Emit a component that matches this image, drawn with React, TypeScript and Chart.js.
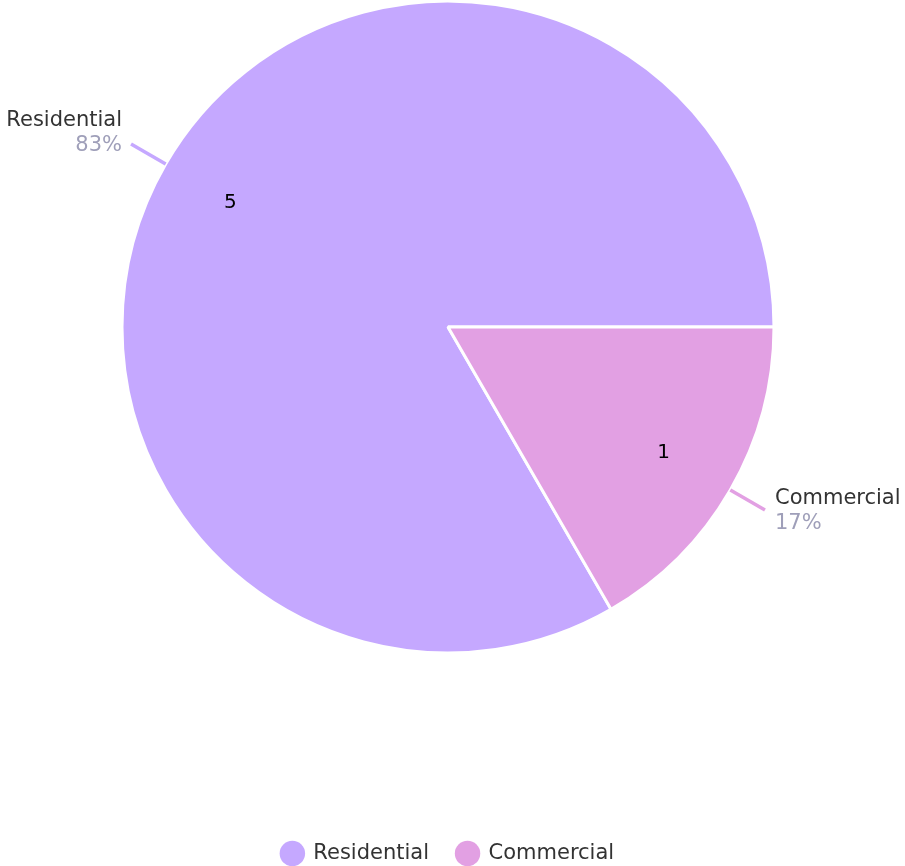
import React, { useEffect, useRef } from "react";
import { Chart, registerables } from "chart.js";

Chart.register(...registerables);

const categories = ["Residential", "Commercial"];
const values = [5, 1];
const sliceColors = ["#c5a8ff", "#e2a0e3"];

const FONT = "'DejaVu Sans', sans-serif";
const TEXT_COLOR = "#333333";
const PCT_COLOR = "#9f9fb9";

const labelPlugin = {
  id: "pieLabels",
  afterDatasetsDraw(chart: any) {
    const ctx = chart.ctx as CanvasRenderingContext2D;
    const meta = chart.getDatasetMeta(0);
    const total = values.reduce((a, b) => a + b, 0);
    meta.data.forEach((arc: any, i: number) => {
      const { x, y, startAngle, endAngle, outerRadius } = arc.getProps(
        ["x", "y", "startAngle", "endAngle", "outerRadius"],
        true
      );
      const mid = (startAngle + endAngle) / 2;
      const cos = Math.cos(mid);
      const sin = Math.sin(mid);
      ctx.save();
      // value inside slice
      const ri = outerRadius * 0.767;
      ctx.font = `20px ${FONT}`;
      ctx.fillStyle = "#000000";
      ctx.textAlign = "center";
      ctx.textBaseline = "middle";
      ctx.fillText(String(values[i]), x + cos * ri - 1, y + sin * ri + 1);

      // leader line
      const r0 = outerRadius;
      const r1 = outerRadius + 40;
      const ex = x + cos * r1;
      const ey = y + sin * r1;
      ctx.strokeStyle = sliceColors[i];
      ctx.lineWidth = 3.5;
      ctx.beginPath();
      ctx.moveTo(x + cos * r0, y + sin * r0);
      ctx.lineTo(ex, ey);
      ctx.stroke();

      // outside label
      const left = cos < 0;
      const shift = sin < 0 ? -3 : 8.5;
      const tx = left ? ex - 9 : ex + 10;
      ctx.textAlign = left ? "right" : "left";
      ctx.font = `21px ${FONT}`;
      ctx.fillStyle = TEXT_COLOR;
      ctx.fillText(categories[i], tx, ey - 20 + shift);
      ctx.fillStyle = PCT_COLOR;
      const pct = Math.round((values[i] / total) * 100);
      ctx.fillText(`${pct}%`, tx, ey + 5 + shift);
      ctx.restore();
    });
  },
};

export default function App() {
  const canvasRef = useRef<HTMLCanvasElement | null>(null);

  useEffect(() => {
    if (!canvasRef.current) return;
    const chart = new Chart(canvasRef.current, {
      type: "pie",
      data: {
        labels: categories,
        datasets: [
          {
            data: values,
            backgroundColor: sliceColors,
            borderColor: "#ffffff",
            borderWidth: 3,
            radius: 326,
          } as any,
        ],
      },
      options: {
        responsive: false,
        animation: false,
        devicePixelRatio: 1,
        rotation: 150,
        layout: { padding: { top: 0, left: 0, right: 9, bottom: -8 } },
        plugins: {
          tooltip: { enabled: false },
          legend: {
            display: true,
            position: "bottom",
            title: {
              display: true,
              text: "",
              font: { size: 10, lineHeight: 1 },
              padding: { top: 0, bottom: 151 },
            },
            labels: {
              usePointStyle: true,
              pointStyle: "circle",
              boxHeight: 18,
              padding: 28,
              color: TEXT_COLOR,
              font: { family: FONT, size: 21 },
              generateLabels: (chart: any) => {
                const items = Chart.overrides.pie.plugins.legend.labels.generateLabels(chart);
                return items.map((it: any) => ({ ...it, lineWidth: 0, strokeStyle: "rgba(0,0,0,0)" }));
              },
            },
          },
        },
      },
      plugins: [labelPlugin],
    });
    return () => chart.destroy();
  }, []);

  return (
    <div style={{ position: "fixed", left: 0, top: 0, width: 905, height: 866, background: "#ffffff" }}>
      <canvas ref={canvasRef} width={905} height={866} />
    </div>
  );
}
